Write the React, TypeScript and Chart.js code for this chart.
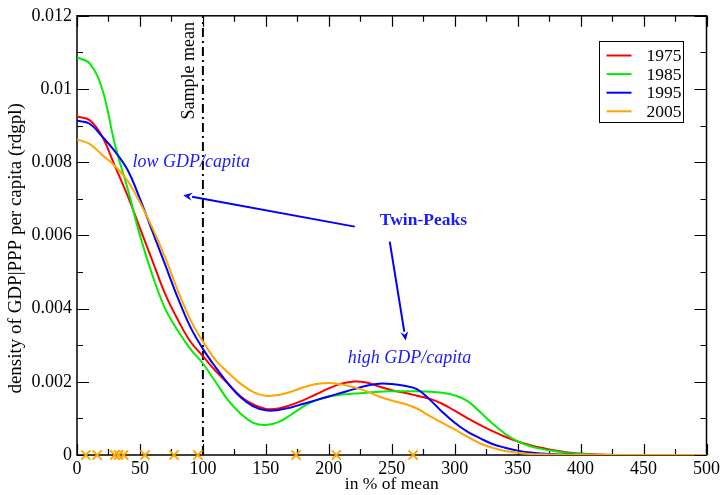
import React, { useEffect, useRef } from "react";
import { Chart, registerables } from "chart.js";

Chart.register(...registerables);

// ---------- data ----------
const xValues = [
  0, 10, 20, 30, 40, 50, 60, 70, 80, 90, 100, 110, 120, 130, 140, 150, 160, 170, 180, 190, 200,
  210, 220, 230, 240, 250, 260, 270, 280, 290, 300, 310, 320, 330, 340, 350, 360, 370, 380, 390,
  400, 410, 420, 430, 440, 450, 460, 470, 480, 490, 500,
];

const density1975 = [
  0.00925, 0.00915, 0.0087, 0.0079, 0.0071, 0.0062, 0.0053, 0.0044, 0.0037, 0.0031, 0.0027,
  0.0023, 0.00195, 0.0016, 0.00138, 0.00126, 0.00127, 0.00137, 0.0015, 0.00166, 0.00182,
  0.00195, 0.00201, 0.00198, 0.00187, 0.00177, 0.0017, 0.00162, 0.00154, 0.0014, 0.00121,
  0.00101, 0.00082, 0.00065, 0.0005, 0.00037, 0.00027, 0.00019, 0.00012, 0.00007,
  0.00004, 0.00002, 0.00001, 0, 0, 0, 0, 0, 0, 0, 0,
];

const density1985 = [
  0.01086, 0.0107, 0.01, 0.0085, 0.0073, 0.006, 0.0049, 0.004, 0.0034, 0.0029, 0.0025,
  0.002, 0.0015, 0.00113, 0.00088, 0.00082, 0.0009, 0.0011, 0.00133, 0.0015, 0.0016,
  0.00165, 0.00168, 0.0017, 0.00173, 0.00174, 0.00174, 0.00174, 0.00173, 0.0017, 0.00163,
  0.00148, 0.00118, 0.00086, 0.00058, 0.00037, 0.00024, 0.00016, 0.0001, 0.00005,
  0.00003, 0.00001, 0, 0, 0, 0, 0, 0, 0, 0, 0,
];

const density1995 = [
  0.00913, 0.00905, 0.0087, 0.0083, 0.0078, 0.007, 0.0061, 0.0052, 0.0043, 0.0035, 0.0029,
  0.0024, 0.00195, 0.00158, 0.00133, 0.00122, 0.00123, 0.0013, 0.0014, 0.0015, 0.0016,
  0.0017, 0.0018, 0.00189, 0.00195, 0.00194, 0.00189, 0.0018, 0.00152, 0.00118, 0.00088,
  0.00064, 0.00046, 0.0003, 0.0002, 0.00012, 0.00007, 0.00004, 0.00002, 0.00001,
  0, 0, 0, 0, 0, 0, 0, 0, 0, 0, 0,
];

const density2005 = [
  0.00862, 0.0085, 0.0082, 0.0079, 0.0075, 0.0069, 0.0062, 0.0054, 0.0045, 0.0037, 0.0031,
  0.0026, 0.00225, 0.00195, 0.00172, 0.00162, 0.00164, 0.00173, 0.00185, 0.00194, 0.00197,
  0.00193, 0.00185, 0.00174, 0.0016, 0.00149, 0.0014, 0.00127, 0.00107, 0.00088, 0.0007,
  0.0005, 0.00032, 0.0002, 0.00011, 0.00006, 0.00003, 0.00002, 0.00001, 0,
  0, 0, 0, 0, 0, 0, 0, 0, 0, 0, 0,
];

const seriesLabels = ["1975", "1985", "1995", "2005"];
const seriesColors = ["#ff0000", "#00ee00", "#0000ff", "#ffa500"];

// observations (2005) marked on the x axis
const sampleMarkersX = [7, 16, 30, 33, 37, 54, 77, 96, 174, 206, 267];

const sampleMeanX = 100;
const yMax = 0.012;
const xMax = 500;

const xTitle = "in % of mean";
const yTitle = "density of GDP|PPP per capita (rdgpl)";
const meanLabel = "Sample mean";
const lowLabel = "low GDP/capita";
const twinLabel = "Twin-Peaks";
const highLabel = "high GDP/capita";

const SERIF = "'Liberation Serif', 'Times New Roman', serif";

function arrow(ctx: CanvasRenderingContext2D, x1: number, y1: number, x2: number, y2: number) {
  const ang = Math.atan2(y2 - y1, x2 - x1);
  const hl = 9;
  const hw = 4;
  const bx = x2 - hl * Math.cos(ang);
  const by = y2 - hl * Math.sin(ang);
  ctx.beginPath();
  ctx.moveTo(x1, y1);
  ctx.lineTo(bx, by);
  ctx.stroke();
  ctx.beginPath();
  ctx.moveTo(x2, y2);
  ctx.lineTo(bx + hw * Math.sin(ang), by - hw * Math.cos(ang));
  ctx.lineTo(bx + 0.35 * hl * Math.cos(ang), by + 0.35 * hl * Math.sin(ang));
  ctx.lineTo(bx - hw * Math.sin(ang), by + hw * Math.cos(ang));
  ctx.closePath();
  ctx.fill();
}

const framePlugin = {
  id: "frame",
  beforeDatasetsDraw(chart: any) {
    const { ctx, chartArea: a, scales } = chart;
    const x = scales.x;
    const y = scales.y;
    ctx.save();
    ctx.strokeStyle = "#000";
    ctx.lineWidth = 1.5;
    ctx.strokeRect(a.left, a.top, a.right - a.left, a.bottom - a.top);
    ctx.lineWidth = 1.2;
    ctx.beginPath();
    for (let v = 0; v <= xMax; v += 25) {
      const px = Math.round(x.getPixelForValue(v)) + 0.5;
      const len = v % 50 === 0 ? 11 : 6;
      ctx.moveTo(px, a.bottom);
      ctx.lineTo(px, a.bottom - len);
      ctx.moveTo(px, a.top);
      ctx.lineTo(px, a.top + len);
    }
    for (let k = 0; k <= 12; k++) {
      const py = Math.round(y.getPixelForValue(k * 0.001)) + 0.5;
      const len = k % 2 === 0 ? 12 : 6;
      ctx.moveTo(a.left, py);
      ctx.lineTo(a.left + len, py);
      ctx.moveTo(a.right, py);
      ctx.lineTo(a.right - len, py);
    }
    ctx.stroke();
    ctx.restore();
  },
  afterDatasetsDraw(chart: any) {
    const { ctx, chartArea: a, scales } = chart;
    const x = scales.x;
    const y = scales.y;
    ctx.save();

    // axis titles
    ctx.fillStyle = "#000";
    ctx.font = `17.5px ${SERIF}`;
    ctx.textAlign = "center";
    ctx.textBaseline = "middle";
    ctx.fillText(xTitle, (a.left + a.right) / 2, a.bottom + 29);
    ctx.save();
    ctx.translate(16, (a.top + a.bottom) / 2 + 13);
    ctx.rotate(-Math.PI / 2);
    ctx.font = `19px ${SERIF}`;
    ctx.fillText(yTitle, 0, 0);
    ctx.restore();

    // sample mean label
    ctx.save();
    ctx.translate(x.getPixelForValue(89), y.getPixelForValue(0.0105));
    ctx.rotate(-Math.PI / 2);
    ctx.font = `18px ${SERIF}`;
    ctx.fillText(meanLabel, 0, 0);
    ctx.restore();

    // annotations
    ctx.fillStyle = "#1a1aff";
    ctx.strokeStyle = "#0000ff";
    ctx.textAlign = "left";
    ctx.font = `italic 18px ${SERIF}`;
    ctx.fillText(lowLabel, x.getPixelForValue(44), y.getPixelForValue(0.008));
    ctx.fillText(highLabel, x.getPixelForValue(215), y.getPixelForValue(0.00264));
    ctx.font = `bold 17.5px ${SERIF}`;
    ctx.fillText(twinLabel, x.getPixelForValue(240.5), y.getPixelForValue(0.00642));

    ctx.fillStyle = "#0000ff";
    ctx.lineWidth = 2;
    arrow(
      ctx,
      x.getPixelForValue(220.6),
      y.getPixelForValue(0.00624),
      x.getPixelForValue(84.4),
      y.getPixelForValue(0.0071)
    );
    arrow(
      ctx,
      x.getPixelForValue(248.4),
      y.getPixelForValue(0.00583),
      x.getPixelForValue(261.1),
      y.getPixelForValue(0.00313)
    );

    // legend
    const bw = 84;
    const bh = 81;
    const bx = Math.round(a.right - 24 - bw) + 0.5;
    const by = Math.round(a.top + 25) + 0.5;
    ctx.fillStyle = "#fff";
    ctx.fillRect(bx, by, bw, bh);
    ctx.strokeStyle = "#000";
    ctx.lineWidth = 1;
    ctx.strokeRect(bx, by, bw, bh);
    ctx.font = `17.5px ${SERIF}`;
    ctx.textAlign = "left";
    ctx.textBaseline = "middle";
    seriesLabels.forEach((lab, i) => {
      const ry = by + 14 + i * 18.6;
      ctx.strokeStyle = seriesColors[i];
      ctx.lineWidth = 2;
      ctx.beginPath();
      ctx.moveTo(bx + 7, ry);
      ctx.lineTo(bx + 32, ry);
      ctx.stroke();
      ctx.fillStyle = "#000";
      ctx.fillText(lab, bx + 47, ry + 1);
    });

    ctx.restore();
  },
};

export default function App() {
  const ref = useRef<HTMLCanvasElement | null>(null);

  useEffect(() => {
    document.body.style.margin = "0";
    const canvas = ref.current;
    if (!canvas) return;

    const seriesData = [density1975, density1985, density1995, density2005];
    const curveSets = seriesData.map((arr, i) => ({
      label: seriesLabels[i],
      data: xValues.map((xv, j) => ({ x: xv, y: arr[j] })),
      borderColor: seriesColors[i],
      backgroundColor: seriesColors[i],
      borderWidth: 2,
      pointRadius: 0,
      tension: 0.4,
      fill: false,
      order: 4 - i,
    }));

    const chart = new Chart(canvas, {
      type: "line",
      data: {
        datasets: [
          ...curveSets,
          {
            label: "mean",
            data: [
              { x: sampleMeanX, y: 0 },
              { x: sampleMeanX, y: yMax },
            ],
            borderColor: "#000",
            borderWidth: 2,
            borderDash: [9, 4, 2, 4],
            pointRadius: 0,
            tension: 0,
            fill: false,
            order: 10,
          },
          {
            label: "obs",
            data: sampleMarkersX.map((v) => ({ x: v, y: 0 })),
            showLine: false,
            pointStyle: "crossRot",
            pointRadius: 6.5,
            pointBorderWidth: 2,
            pointBorderColor: "#ffa500",
            borderColor: "#ffa500",
            backgroundColor: "#ffa500",
            clip: false,
            order: 0,
          } as any,
        ],
      },
      options: {
        animation: false,
        responsive: false,
        devicePixelRatio: 1,
        layout: { padding: { top: 14, right: 16, left: 0, bottom: 0 } },
        plugins: {
          legend: { display: false },
          tooltip: { enabled: false },
          title: { display: false },
        },
        scales: {
          x: {
            type: "linear",
            min: 0,
            max: xMax,
            grid: { display: false, drawTicks: false },
            border: { display: false },
            ticks: {
              stepSize: 50,
              autoSkip: false,
              maxRotation: 0,
              color: "#000",
              padding: 3,
              font: { family: SERIF, size: 18 },
            },
            afterFit: (s: any) => {
              s.height = 40;
            },
          },
          y: {
            type: "linear",
            min: 0,
            max: yMax,
            grid: { display: false, drawTicks: false },
            border: { display: false },
            ticks: {
              stepSize: 0.002,
              color: "#000",
              padding: 5,
              font: { family: SERIF, size: 18 },
              callback: (v: any) => (Number(v) === 0 ? "0" : String(parseFloat(Number(v).toFixed(3)))),
            },
            afterFit: (s: any) => {
              s.width = 77;
            },
          },
        },
      },
      plugins: [framePlugin],
    });

    return () => chart.destroy();
  }, []);

  return (
    <div style={{ position: "fixed", left: 0, top: 0, width: 723, height: 495, background: "#fff" }}>
      <canvas ref={ref} width={723} height={495} />
    </div>
  );
}
